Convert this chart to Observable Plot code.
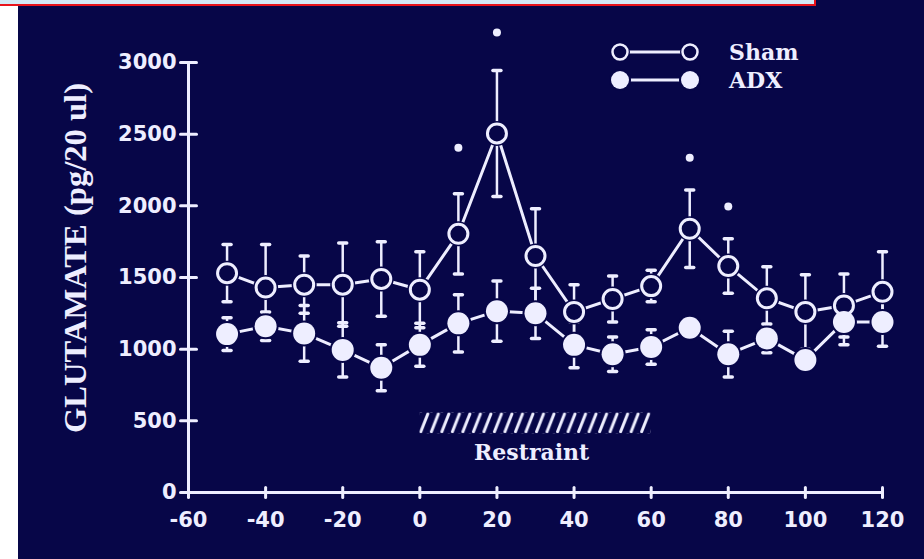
<!DOCTYPE html>
<html>
<head>
<meta charset="utf-8">
<script src="https://cdn.jsdelivr.net/npm/d3@7"></script>
<script src="https://cdn.jsdelivr.net/npm/@observablehq/plot@0.6"></script>
<style>
  html, body { margin: 0; padding: 0; background: #ffffff; }
  #wrap { position: relative; width: 924px; height: 559px; overflow: hidden; }
  #bg { position: absolute; left: 18px; top: 0; right: 0; bottom: 0; background: #070648; }
  #band { position: absolute; left: 0; top: 0; width: 814px; height: 4px; background: #d3e9f5;
          border-bottom: 2px solid #e8141c; border-right: 2px solid #e8141c; z-index: 5; }
  #wrap svg { position: absolute; left: 0; top: 0; }
</style>
</head>
<body>
<div id="wrap"><div id="bg"></div><div id="band"></div></div>
<script>
// ---- data ----
const times    = [-50, -40, -30, -20, -10, 0, 10, 20, 30, 40, 50, 60, 70, 80, 90, 100, 110, 120];
const shamMean = [1530, 1430, 1450, 1450, 1490, 1415, 1805, 2505, 1650, 1260, 1350, 1440, 1840, 1580, 1355, 1260, 1305, 1400];
const shamSem  = [ 200,  300,  200,  290,  260,  265,  280,  440,  330,  190,  160,  110,  270,  190,  220,  260,  220,  280];
const adxMean  = [1105, 1160, 1110,  995,  870, 1030, 1180, 1265, 1250, 1030,  965, 1015, 1150,  965, 1075,  925, 1190, 1190];
const adxSem   = [ 115,  100,  195,  190,  160,  150,  200,  210,  175,  160,  120,  120,   50,  160,  100,   60,  160,  170];
const sigTimes  = [10, 20, 70, 80];
const sigValues = [2405, 3210, 2335, 1995];
const xTicks = [-60, -40, -20, 0, 20, 40, 60, 80, 100, 120];
const yTicks = [0, 500, 1000, 1500, 2000, 2500, 3000];
const restraintStart = 0, restraintEnd = 60, restraintLow = 410, restraintHigh = 555;
const restraintLabel = "Restraint";
const seriesNames = ["Sham", "ADX"];
const yTitle = "GLUTAMATE (pg/20 ul)";

// ---- tables ----
const sham = times.map((t, i) => ({t, v: shamMean[i], e: shamSem[i]}));
const adx  = times.map((t, i) => ({t, v: adxMean[i],  e: adxSem[i]}));
const sig  = sigTimes.map((t, i) => ({t, v: sigValues[i]}));

const W = "#eeeeff", NAVY = "#070648";
const capShape = { draw(ctx, l) { ctx.moveTo(0, 0); ctx.lineTo(0, -l); } };
const fmt = d => String(d);
const tickFont = {fill: W, fontSize: 21, fontWeight: "bold", fontFamily: "DejaVu Sans, sans-serif"};
const slabFont = "DejaVu Serif, Liberation Serif, serif";

function errMarks(data) {
  return [
    Plot.ruleX(data, {x: "t", y1: d => d.v - d.e, y2: d => d.v + d.e, stroke: W, strokeWidth: 2.5}),
    Plot.vector(data, {x: "t", y: d => d.v + d.e, length: 8, rotate: 90, anchor: "middle", shape: capShape, stroke: W, strokeWidth: 3.5}),
    Plot.vector(data, {x: "t", y: d => d.v - d.e, length: 8, rotate: 90, anchor: "middle", shape: capShape, stroke: W, strokeWidth: 3.5})
  ];
}

const plot = Plot.plot({
  width: 924, height: 559,
  marginLeft: 188, marginRight: 42, marginTop: 62, marginBottom: 67,
  x: {domain: [-60, 120], axis: null},
  y: {domain: [0, 3000], axis: null},
  style: {background: "none", color: W, overflow: "visible"},
  marks: [
    // restraint hatch
    Plot.rect([{}], {x1: restraintStart, x2: restraintEnd, y1: restraintLow, y2: restraintHigh, fill: "url(#hatch)"}),
    Plot.text([restraintLabel], {x: (restraintStart + restraintEnd) / 2 - 1, y: restraintLow, dy: 19, text: d => d,
      fill: W, fontSize: 22, fontWeight: "bold", fontFamily: slabFont}),
    // axes
    Plot.ruleX([-60], {y1: 0, y2: 3000, stroke: W, strokeWidth: 3}),
    Plot.ruleY([0], {x1: -60, x2: 120, stroke: W, strokeWidth: 3}),
    Plot.vector(xTicks, {x: d => d, y: 0, length: 10, anchor: "middle", shape: capShape, stroke: W, strokeWidth: 3}),
    Plot.text(xTicks, {x: d => d, y: 0, dy: 28, text: fmt, ...tickFont}),
    Plot.vector(yTicks, {x: -60, y: d => d, length: 16, rotate: 90, anchor: "middle", shape: capShape, stroke: W, strokeWidth: 3}),
    Plot.text(yTicks, {x: -60, y: d => d, dx: -12, textAnchor: "end", text: fmt, ...tickFont}),
    // lines
    Plot.line(sham, {x: "t", y: "v", stroke: W, strokeWidth: 3}),
    Plot.line(adx,  {x: "t", y: "v", stroke: W, strokeWidth: 3}),
    // error bars
    ...errMarks(sham),
    ...errMarks(adx),
    // halos to mimic gaps near markers
    Plot.dot(adx,  {x: "t", y: "v", r: 13, fill: NAVY}),
    Plot.dot(sham, {x: "t", y: "v", r: 12.5, fill: NAVY}),
    // markers
    Plot.dot(sham, {x: "t", y: "v", r: 9.5, fill: NAVY, stroke: W, strokeWidth: 3}),
    Plot.dot(adx,  {x: "t", y: "v", r: 11, fill: W}),
    // significance
    Plot.dot(sig, {x: "t", y: "v", r: 4, fill: W})
  ]
});

// hatch pattern sized to the restraint rectangle
const sx = plot.scale("x"), sy = plot.scale("y");
const px0 = sx.apply(restraintStart), px1 = sx.apply(restraintEnd);
const pyTop = sy.apply(restraintHigh), pyBot = sy.apply(restraintLow);
const nSlash = 22, tw = (px1 - px0) / nSlash, th = pyBot - pyTop;
const svg = d3.select(plot);
const pat = svg.insert("defs", ":first-child").append("pattern")
  .attr("id", "hatch").attr("patternUnits", "userSpaceOnUse")
  .attr("x", px0).attr("y", pyTop).attr("width", tw).attr("height", th);
pat.append("line").attr("x1", 1.5).attr("y1", th - 1.5).attr("x2", 8.5).attr("y2", 1.5)
  .attr("stroke", W).attr("stroke-width", 3).attr("stroke-linecap", "round");

// y title
svg.append("text").text(yTitle)
  .attr("transform", "translate(86,258) rotate(-90)")
  .attr("text-anchor", "middle").attr("fill", W)
  .attr("font-family", "Liberation Serif, DejaVu Serif, serif").attr("font-weight", "bold")
  .attr("font-size", 31).attr("textLength", 350).attr("lengthAdjust", "spacingAndGlyphs");

// legend
const lg = svg.append("g");
const rows = [{y: 52, filled: false}, {y: 80, filled: true}];
rows.forEach((r, i) => {
  lg.append("line").attr("x1", 620).attr("x2", 690).attr("y1", r.y).attr("y2", r.y).attr("stroke", W).attr("stroke-width", 3);
  [620, 690].forEach(cx => {
    lg.append("circle").attr("cx", cx).attr("cy", r.y).attr("r", r.filled ? 11 : 10).attr("fill", NAVY);
    lg.append("circle").attr("cx", cx).attr("cy", r.y).attr("r", r.filled ? 9 : 7.5)
      .attr("fill", r.filled ? W : NAVY).attr("stroke", r.filled ? "none" : W).attr("stroke-width", 2.5);
  });
  lg.append("text").text(seriesNames[i]).attr("x", 729).attr("y", r.y + 8)
    .attr("text-anchor", "start")
    .attr("fill", W).attr("font-family", slabFont)
    .attr("font-weight", "bold").attr("font-size", 22);
});

document.getElementById("wrap").appendChild(plot);
</script>
</body>
</html>
